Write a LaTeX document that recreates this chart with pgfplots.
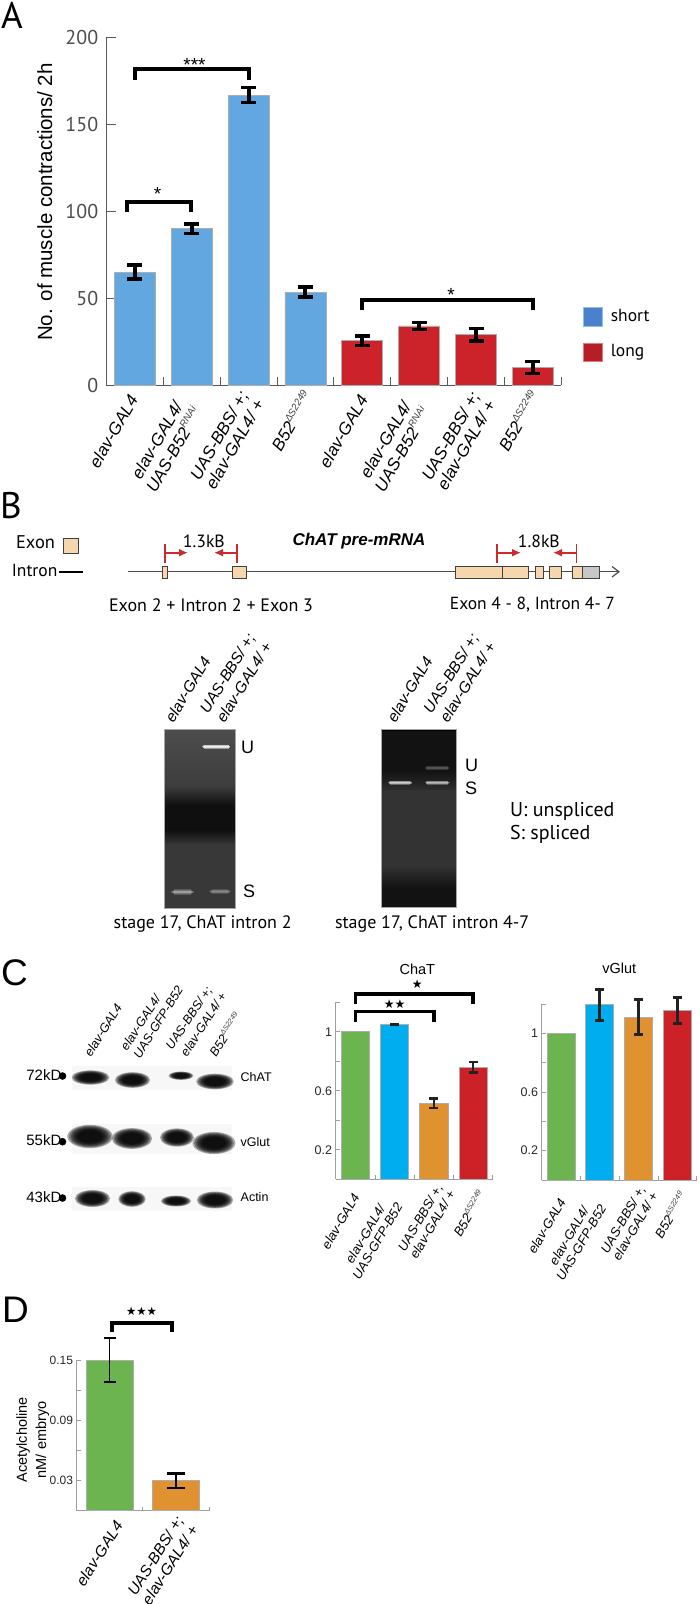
\documentclass[border=0pt]{standalone}
\usepackage{pgfplots}
\pgfplotsset{compat=1.18}
\usepackage{fontspec}
\usetikzlibrary{arrows.meta}
\setmainfont{Liberation Sans}
\newfontfamily\myr{PT Sans}
\newfontfamily\djv{DejaVu Sans}
\newcommand\fs[1]{\fontsize{#1}{#1}\selectfont}
\definecolor{barblue}{HTML}{62A7DF}
\definecolor{barred}{HTML}{CC2229}
\definecolor{cgreen}{HTML}{6CB450}
\definecolor{ccyan}{HTML}{00AEEF}
\definecolor{corange}{HTML}{E19230}
\definecolor{cred}{HTML}{CD2128}
\definecolor{exon}{HTML}{F6D6AC}
\definecolor{arrowred}{HTML}{CB2A2E}
\definecolor{errc}{HTML}{222222}
\def\lang{60}
% tick label: zero-size box whose right end-centre is offset (px right, px down) from the tick
\newcommand\lbl[3]{%
  \pgfmathsetlengthmacro\lx{(#1)*cos(\lang)-(#2)*sin(\lang)}%
  \pgfmathsetlengthmacro\ly{-(#1)*sin(\lang)-(#2)*cos(\lang)}%
  \makebox[0pt][r]{\raisebox{\ly}[0pt][0pt]{\begin{tabular}{@{}c@{}}#3\end{tabular}}\kern-\lx}}
\newcommand\sups[1]{\raisebox{.42em}{\scalebox{.58}{\textcolor{black!75}{#1}}}}
\newcommand\B[1]{B52\sups{#1}}
\pgfplotsset{
  panel/.style={scale only axis,clip=false,axis lines=left,axis line style={-},
    tick align=inside,enlargelimits=false},
  bar/.style={ybar,bar shift=0,bar width=0.72,fill=#1,draw=black!32,line width=0.8pt},
  err/.style n args={5}{error bars/y dir=both,error bars/y explicit,
    error bars/error bar style={line width=#1,#4},
    error bars/error mark options={rotate=90,line width=#2,mark size=#3,#4}},
  bracket/.style={black,line width=#1,sharp plot,no marks,line join=miter,mark=none},
}
\newcommand\T[4]{\node[anchor=mid west,inner sep=0pt] at (#1,#2) {#3 \raisebox{-0.1em}{#4}};}
\newcommand\Rot[5]{\node[anchor=mid west,inner sep=0pt,rotate=#3] at (#1,#2) {#4 #5};}
\newcommand\blob[5]{\foreach \s in {1.3,1.2,1.1,1,.9,.8,.7}{\fill[#5,opacity=.32] (#1,#2) ellipse [x radius={\s*#3},y radius={\s*#4}];}}
\newcommand\band[6]{\foreach \s in {1,.75,.5,.25}{\fill[white,opacity=#5] (#1+#6*\s,#3-#4*\s) rectangle (#2-#6*\s,#3+#4*\s);}}
\begin{document}
\begin{tikzpicture}
\begin{scope}[x=1pt,y=-1pt]
\useasboundingbox (0,0) rectangle (700,1604);
% ---- panel letters
\node[anchor=base west,inner sep=0pt] at (1,28) {\myr\fs{37}A};
\node[anchor=base west,inner sep=0pt] at (0,518) {\myr\fs{37}B};
\node[anchor=base west,inner sep=0pt] at (1,985) {\fs{37}C};
\node[anchor=base west,inner sep=0pt] at (2,1322) {\fs{37}D};
% ---- legend A
\fill[fill=barblue!85!blue!90!black,draw=barblue!70] (583,307) rectangle (602,326);
\fill[fill=barred!88!black,draw=barred!60] (583,343) rectangle (602,361);
\T{606}{317}{\myr\fs{17.5}}{short}
\T{606}{352}{\myr\fs{17.5}}{long}
% ---- panel B diagram
\T{11}{544}{\myr\fs{18.4}}{Exon}
\fill[exon,draw=black!75,line width=1pt] (63,538.5) rectangle (78,553);
\T{7}{572}{\myr\fs{17.5}}{Intron}
\draw[black,line width=2pt] (59,572) -- (83,572);
\draw[black!70,line width=1.4pt] (127.5,571.7) -- (618,571.7);
\draw[black!70,line width=1.2pt] (612,566.5) -- (619,571.7) -- (612,577);
\foreach \a/\b in {162/167.7,232.5/246,455/502.7,502.7/528.6,535/543,549/561.7,572.5/582.7}
  {\fill[exon,draw=black!75,line width=1pt] (\a,566) rectangle (\b,578.7);}
\fill[black!22,draw=black!75,line width=1pt] (582.7,566) rectangle (599.3,578.7);
\foreach \x/\e in {165/188,237/214,497/521,576.5/553}{
  \draw[arrowred,line width=1.8pt] (\x,544) -- (\x,563);
  \draw[arrowred,line width=1.8pt,-{Latex[length=9pt,width=8pt]}] (\x,552.7) -- (\e,552.7);}
\T{178}{543}{\myr\fs{17.7}}{1.3kB}
\T{513}{543}{\myr\fs{17.7}}{1.8kB}
\node[anchor=mid,inner sep=0pt] at (359,543) {\fs{17}\bfseries\itshape ChAT pre-mRNA};
\T{104}{607}{\myr\fs{18}}{Exon 2 + Intron 2 + Exon 3}
\T{445}{605}{\myr\fs{17.5}}{Exon 4 - 8, Intron 4- 7}
% gel labels
\Rot{169}{726}{59}{\fs{15.5}\itshape}{elav-GAL4}
\Rot{203.5}{716.7}{58}{\fs{15.5}\itshape}{UAS-BBS/ +;}
\Rot{220}{726}{58}{\fs{15.5}\itshape}{elav-GAL4/ +}
\Rot{391}{726}{59}{\fs{15.5}\itshape}{elav-GAL4}
\Rot{427}{716.7}{58}{\fs{15.5}\itshape}{UAS-BBS/ +;}
\Rot{443.6}{726}{58}{\fs{15.5}\itshape}{elav-GAL4/ +}
% left gel
\definecolor{g1}{gray}{.30}\definecolor{g2}{gray}{.24}\definecolor{g3}{gray}{.06}\definecolor{g4}{gray}{.22}
\shade[top color=g1,bottom color=g2] (164.5,729.3) rectangle (235,786);
\shade[top color=g2,bottom color=g3] (164.5,786) rectangle (235,805);
\fill[g3] (164.5,805) rectangle (235,830);
\shade[top color=g3,bottom color=g4] (164.5,830) rectangle (235,845);
\fill[g4] (164.5,845) rectangle (235,908.3);
\draw[black!35,line width=.5pt] (164.5,729.3) rectangle (235,908.3);
\band{201.7}{230.7}{746.7}{2.2}{.45}{2}
\band{170}{195}{892}{2.6}{.17}{4}
\band{208}{232}{891.5}{2.4}{.12}{4}
% right gel
\definecolor{h1}{gray}{.07}\definecolor{h2}{gray}{.18}\definecolor{h3}{gray}{.20}\definecolor{h4}{gray}{.07}
\fill[h1] (381.7,729) rectangle (456.7,770);
\shade[top color=h1,bottom color=h2] (381.7,770) rectangle (456.7,790);
\fill[h3] (381.7,790) rectangle (456.7,865);
\shade[top color=h3,bottom color=h4] (381.7,865) rectangle (456.7,888);
\fill[h4] (381.7,888) rectangle (456.7,907.7);
\fill[black] (381.7,729) rectangle (456.7,731);
\draw[black!35,line width=.5pt] (381.7,729) rectangle (456.7,907.7);
\band{387}{413}{782.7}{2}{.3}{3}
\band{424}{450.7}{782.5}{2}{.25}{3}
\band{424}{450.7}{768}{2.4}{.08}{3}
\T{236}{749}{\fs{18}}{U}
\T{238}{893}{\fs{18}}{S}
\T{460}{767}{\fs{18}}{U}
\T{460}{790}{\fs{18}}{S}
\T{504.5}{812}{\myr\fs{20}}{U: unspliced}
\T{504.5}{835}{\myr\fs{20}}{S: spliced}
\T{108.7}{924}{\myr\fs{18}}{stage 17, ChAT intron 2}
\T{330}{924}{\myr\fs{18}}{stage 17, ChAT intron 4-7}
% ---- panel C blots
\foreach \yy/\hh in {1078/12,1139/15,1199/12}{\fill[black!3] (72,\yy-\hh) rectangle (232,\yy+\hh);}
\blob{90.5}{1077.5}{14.5}{5.5}{black}
\blob{132.5}{1080}{13.5}{6}{black}
\blob{181}{1075.7}{9.5}{3.2}{black}
\blob{215}{1081.5}{14.5}{6}{black}
\blob{90}{1136.5}{17.5}{9}{black}
\blob{132}{1138.5}{15.5}{8}{black}
\blob{177}{1137.5}{13}{7}{black}
\blob{214}{1143}{16.5}{8.5}{black}
\blob{92.5}{1198.5}{13.5}{6.5}{black}
\blob{132}{1199}{10.5}{6}{black}
\blob{176}{1201}{11.5}{4.2}{black}
\blob{215}{1200}{14}{6.5}{black}
\Rot{87}{1059}{58}{\fs{12.5}\itshape}{elav-GAL4}
\Rot{123}{1053}{57}{\fs{12.5}\itshape}{elav-GAL4/}
\Rot{136}{1061}{58}{\fs{12.5}\itshape}{UAS-GFP-B52}
\Rot{168}{1052}{56}{\fs{12.5}\itshape}{UAS-BBS/ +;}
\Rot{183}{1059}{57}{\fs{12.5}\itshape}{elav-GAL4/ +}
\Rot{212}{1059}{57}{\fs{12.5}\itshape}{\B{ΔS2249}}
\T{22}{1076}{\fs{15}}{72kD}
\T{22}{1141.7}{\fs{15}}{55kD}
\T{22}{1198}{\fs{15}}{43kD}
\foreach \yy in {1076,1141.7,1198}{\fill[black] (62.5,\yy) circle (3.8);}
\T{237}{1078}{\fs{12.5}}{ChAT}
\T{237}{1143}{\fs{12.5}}{vGlut}
\T{237}{1198}{\fs{12.5}}{Actin}
\end{scope}

% ---- panel A
\begin{axis}[panel,at={(106.4pt,-385pt)},anchor=south west,width=455pt,height=347.3pt,
  xmin=-0.5,xmax=7.5,ymin=0,ymax=200,
  axis line style={black!65,line width=1pt},
  every tick/.style={black!65,line width=1pt},
  xtick={0,...,7},minor xtick={0.5,1.5,...,7.5},major x tick style={draw=none},
  minor tick length=8pt,major tick length=10pt,
  ytick={0,50,100,150,200},yticklabels={0,50,100,150,200},
  yticklabel style={font=\myr\fs{20},text=black!70,inner sep=0pt,xshift=-8pt},
  xticklabels={
    {\lbl{4.5}{15}{elav-GAL4}},
    {\lbl{3}{23}{elav-GAL4/\\UAS-B52\sups{RNAi}}},
    {\lbl{9}{15}{UAS-BBS/ +;\\elav-GAL4/ +}},
    {\lbl{8.4}{11}{\B{ΔS2249}}},
    {\lbl{7}{15}{elav-GAL4}},
    {\lbl{4}{22.5}{elav-GAL4/\\UAS-B52\sups{RNAi}}},
    {\lbl{13}{15.7}{UAS-BBS/ +;\\elav-GAL4/ +}},
    {\lbl{8}{11}{\B{ΔS2249}}}},
  xticklabel style={font=\fontsize{17}{18}\selectfont\itshape,rotate=60,anchor=center,inner sep=0pt},
  every axis y label/.style={at={(axis description cs:-0.1356,0.527)},rotate=90,anchor=center},
  ylabel={\fs{20.5}No. of muscle contractions/ 2h},
]
\addplot[bar=barblue,err={4pt}{3.4pt}{7.5pt}{black}{}] coordinates {(0,65) +- (0,4) (1,90) +- (0,2.7) (2,167) +- (0,4.2) (3,53.5) +- (0,2.9)};
\addplot[bar=barred,err={4pt}{3.4pt}{7.5pt}{black}{}] coordinates {(4,25.5) +- (0,2.7) (5,34) +- (0,2) (6,29) +- (0,3.6) (7,10) +- (0,3.5)};
\addplot[bracket=4pt] coordinates {(0,175.6) (0,181.8) (2,181.8) (2,175.6)};
\addplot[bracket=4pt] coordinates {(-0.13,99.8) (-0.13,105.6) (0.99,105.6) (0.99,99.8)};
\addplot[bracket=4pt] coordinates {(4,43.2) (4,48.9) (7,48.9) (7,43.2)};
\node[inner sep=0pt] at (axis cs:1.05,184.3) {\fs{19}***};
\node[inner sep=0pt] at (axis cs:0.4,110) {\fs{19}*};
\node[inner sep=0pt] at (axis cs:5.56,52) {\fs{19}*};
\end{axis}

% ---- panel C ChaT
\def\lang{59.5}
\begin{axis}[panel,at={(335.7pt,-1179.3pt)},anchor=south west,width=157pt,height=177pt,
  xmin=-0.5,xmax=3.5,ymin=0,ymax=1.2,
  axis line style={black!38,line width=.9pt},
  every tick/.style={black!38,line width=.9pt},
  xtick={0,...,3},minor xtick={0.5,1.5,2.5,3.5},major x tick style={draw=none},
  minor tick length=4pt,major tick length=4pt,
  ytick={0.2,0.4,0.6,0.8,1,1.2},yticklabels={0.2,,0.6,,1,},
  yticklabel style={font=\fs{12.5},text=black!85,inner sep=0pt,xshift=-3.5pt},
  xticklabels={
    {\lbl{4.8}{18}{elav-GAL4}},
    {\lbl{2.5}{24}{elav-GAL4/\\UAS-GFP-B52}},
    {\lbl{16}{11.4}{UAS-BBS/ +,\\elav-GAL4/ +}},
    {\lbl{13}{15}{\B{ΔS2249}}}},
  xticklabel style={font=\fontsize{13}{14}\selectfont\itshape,rotate=59.5,anchor=center,inner sep=0pt},
]
\addplot[bar=cgreen] coordinates {(0,1)};
\addplot[bar=ccyan,err={2.5pt}{2.6pt}{4.5pt}{errc}{}] coordinates {(1,1.05) +- (0,0.002)};
\addplot[bar=corange,err={2.5pt}{2.6pt}{4.5pt}{errc}{}] coordinates {(2,0.515) +- (0,0.032)};
\addplot[bar=cred,err={2.5pt}{2.6pt}{4.5pt}{errc}{}] coordinates {(3,0.759) +- (0,0.036)};
\addplot[bracket=3.6pt] coordinates {(0,1.19) (0,1.255) (3,1.255) (3,1.19)};
\addplot[bracket=3.6pt] coordinates {(0,1.068) (0,1.138) (2,1.138) (2,1.068)};
\node[inner sep=0pt] at (axis cs:1.58,1.32) {\djv\fs{12}★};
\node[inner sep=0pt] at (axis cs:1,1.185) {\djv\fs{12}★★};
\node[inner sep=0pt] at (axis cs:1.58,1.425) {\fs{14.5}ChaT};
\end{axis}

% ---- panel C vGlut
\begin{axis}[panel,at={(541.7pt,-1180pt)},anchor=south west,width=155pt,height=176pt,
  xmin=-0.5,xmax=3.5,ymin=0,ymax=1.2,
  axis line style={black!38,line width=.9pt},
  every tick/.style={black!38,line width=.9pt},
  xtick={0,...,3},minor xtick={0.5,1.5,2.5,3.5},major x tick style={draw=none},
  minor tick length=4pt,major tick length=4pt,
  ytick={0.2,0.4,0.6,0.8,1,1.2},yticklabels={0.2,,0.6,,1,},
  yticklabel style={font=\fs{12.5},text=black!85,inner sep=0pt,xshift=-3.5pt},
  xticklabels={
    {\lbl{5.4}{22}{elav-GAL4}},
    {\lbl{1}{25}{elav-GAL4/\\UAS-GFP-B52}},
    {\lbl{14}{12.5}{UAS-BBS/ +,\\elav-GAL4/ +}},
    {\lbl{10}{16}{\B{ΔS2249}}}},
  xticklabel style={font=\fontsize{13}{14}\selectfont\itshape,rotate=59.5,anchor=center,inner sep=0pt},
]
\addplot[bar=cgreen] coordinates {(0,1)};
\addplot[bar=ccyan,err={3pt}{3pt}{4.5pt}{errc}{}] coordinates {(1,1.195) +- (0,0.105)};
\addplot[bar=corange,err={3pt}{3pt}{4.5pt}{errc}{}] coordinates {(2,1.11) +- (0,0.12)};
\addplot[bar=cred,err={3pt}{3pt}{4.5pt}{errc}{}] coordinates {(3,1.155) +- (0,0.09)};
\node[inner sep=0pt] at (axis cs:1.5,1.44) {\fs{14.5}vGlut};
\end{axis}

% ---- panel D
\def\lang{57.5}
\begin{axis}[panel,at={(76.7pt,-1510.7pt)},anchor=south west,width=132.3pt,height=150.7pt,
  xmin=-0.5,xmax=1.5,ymin=0,ymax=0.15,
  axis line style={black!38,line width=.9pt},
  every tick/.style={black!38,line width=.9pt},
  xtick={0,1},minor xtick={0.5,1.5},major x tick style={draw=none},
  minor tick length=4pt,major tick length=4pt,
  ytick={0.03,0.06,0.09,0.12,0.15},yticklabels={0.03,,0.09,,0.15},
  yticklabel style={font=\fs{12},text=black!85,inner sep=0pt,xshift=-3.5pt},
  xticklabels={
    {\lbl{14}{15}{elav-GAL4}},
    {\lbl{16}{14.3}{UAS-BBS/ +;\\elav-GAL4/ +}}},
  xticklabel style={font=\fontsize{15.5}{17}\selectfont\itshape,rotate=57.5,anchor=center,inner sep=0pt},
  every axis y label/.style={at={(axis description cs:-0.33,0.47)},rotate=90,anchor=center},
  ylabel={\begin{tabular}{@{}c@{}}\fs{14.5}Acetylcholine\\[5pt]\fs{14.5}nM/ embryo\end{tabular}},
]
\addplot[bar=cgreen,err={1.3pt}{1.3pt}{6pt}{black}{}] coordinates {(0,0.15) +- (0,0.022)};
\addplot[bar=corange,err={2pt}{2.2pt}{9pt}{black}{}] coordinates {(1,0.03) +- (0,0.007)};
\addplot[bracket=4.3pt] coordinates {(0.03,0.178) (0.03,0.187) (0.94,0.187) (0.94,0.178)};
\node[inner sep=0pt] at (axis cs:0.48,0.198) {\djv\fs{11.5}★★★};
\end{axis}
\end{tikzpicture}
\end{document}
